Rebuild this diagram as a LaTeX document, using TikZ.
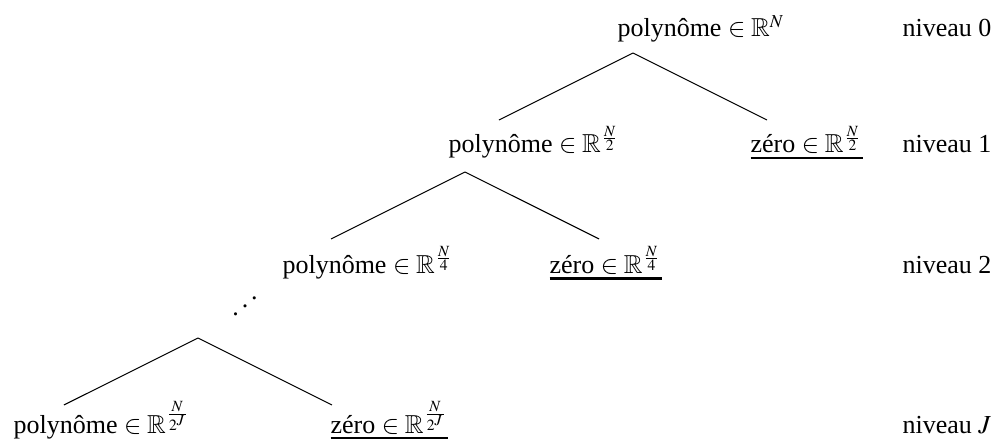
\documentclass[tikz,border=0pt]{standalone}
\usepackage{amsmath,amssymb}
\usepackage{mathptmx}
\usepackage[no-math]{fontspec}
\setmainfont{Liberation Serif}
\DeclareMathSizes{10}{10}{7}{6}
\newcommand{\updots}{\mathinner{\mkern1mu\raise1pt\vbox{\kern7pt\hbox{.}}\mkern2mu\raise4pt\hbox{.}\mkern2mu\raise7pt\hbox{.}\mkern1mu}}
\newcommand{\souligne}[1]{\vtop{\hbox{#1}\kern1.3pt\hrule height 0.8pt}}
\begin{document}
\begin{tikzpicture}[level distance=0.905cm, sibling distance=3.623cm,
  txt/.style={anchor=base west, inner sep=0pt}]
\useasboundingbox (0,0) rectangle (13.436,6.029);
% the three forks
\node[coordinate](a0) at (8.556,5.312) {}
  child{ coordinate (a0l) }
  child{ coordinate (a0r) };
\node[coordinate](a1) at (6.286,3.704) {}
  child{ coordinate (a1l) }
  child{ coordinate (a1r) };
\node[coordinate](aJ) at (2.676,1.460) {}
  child{ coordinate (aJl) }
  child{ coordinate (aJr) };
% level 0
\node[txt](p0) at (8.340,5.529) {polynôme $\in \mathbb{R}^N$};
\node[txt](n0) at (12.193,5.529) {niveau 0};
% level 1
\node[txt](p1) at (6.056,3.961) {polynôme $\in \mathbb{R}^{\frac{N}{2}}$};
\node[txt](z1) at (10.138,3.961) {\souligne{zéro $\in \mathbb{R}^{\frac{N}{2}}$}};
\node[txt](n1) at (12.193,3.961) {niveau 1};
% level 2
\node[txt](p2) at (3.812,2.338) {polynôme $\in \mathbb{R}^{\frac{N}{4}}$};
\node[txt](z2) at (7.421,2.338) {\souligne{zéro $\in \mathbb{R}^{\frac{N}{4}}$}};
\node[txt](n2) at (12.193,2.338) {niveau 2};
\node(dots) at (3.312,1.892) {$\updots$};
% level J
\node[txt](pJ) at (0.176,0.176) {polynôme $\in \mathbb{R}^{\frac{N}{2^J}}$};
\node[txt](zJ) at (4.461,0.176) {\souligne{zéro $\in \mathbb{R}^{\frac{N}{2^J}}$}};
\node[txt](nJ) at (12.193,0.176) {niveau $J$};
\end{tikzpicture}
\end{document}
